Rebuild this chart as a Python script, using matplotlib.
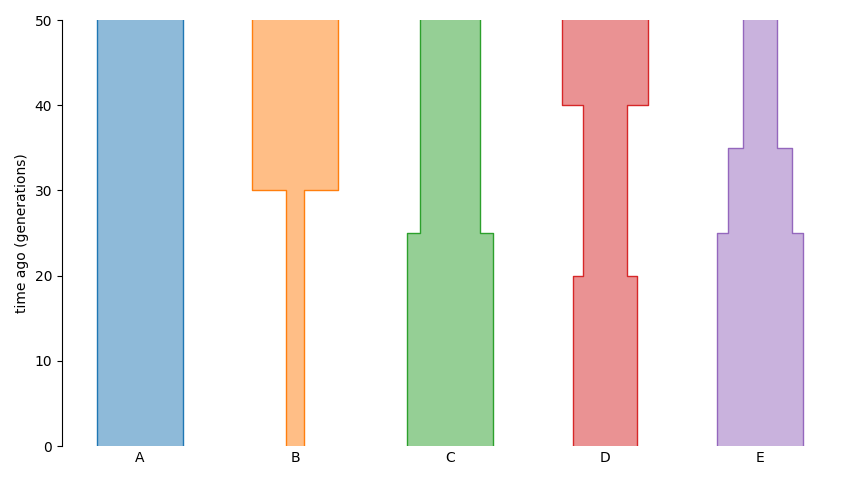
import matplotlib
matplotlib.use("Agg")
import matplotlib.pyplot as plt
import numpy as np

# Deme names
demes = ["A", "B", "C", "D", "E"]
# Epoch end times (generations ago), oldest epoch first; the first epoch starts at infinity
end_times = {
    "A": [0],
    "B": [30, 0],
    "C": [25, 0],
    "D": [40, 20, 0],
    "E": [35, 25, 0],
}
# Epoch sizes, matching end_times
sizes = {
    "A": [10000],
    "B": [10000, 2000],
    "C": [7000, 10000],
    "D": [10000, 5000, 7500],
    "E": [4000, 7500, 10000],
}

colors = plt.get_cmap("tab10").colors
fig = plt.figure(figsize=(8.53, 4.8), dpi=100)
ax = fig.add_axes([62 / 853, 34 / 480, 776 / 853, 426 / 480])

top = 50
scale = 0.557 / 10000  # width per unit size in category units

for i, name in enumerate(demes):
    ys, xl, xr = [], [], []
    start = top
    for t, n in zip(end_times[name], sizes[name]):
        hw = n * scale / 2
        ys += [start, t]
        xl += [i - hw, i - hw]
        xr += [i + hw, i + hw]
        start = t
    c = colors[i]
    ax.fill(np.r_[xl, xr[::-1]], np.r_[ys, ys[::-1]], color=c, alpha=0.5, lw=0)
    ax.plot(xl, ys, color=c, lw=1)
    ax.plot(xr, ys, color=c, lw=1)

ax.set_xlim(-0.503, 4.503)
ax.set_ylim(0, top)
ax.set_xticks(range(len(demes)))
ax.set_xticklabels(demes)
ax.tick_params(axis="x", length=0)
ax.set_yticks([0, 10, 20, 30, 40, 50])
ax.set_ylabel("time ago (generations)")
for s in ["top", "right", "bottom"]:
    ax.spines[s].set_visible(False)

fig.savefig("out.png", dpi=100)
